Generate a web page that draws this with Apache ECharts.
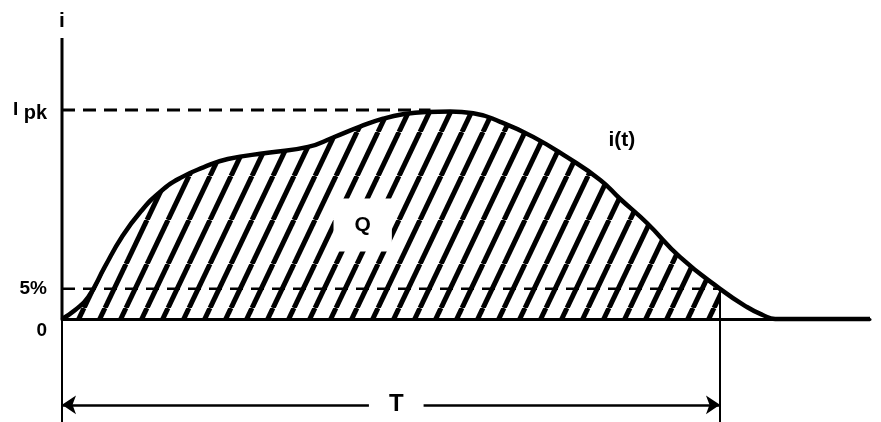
<!DOCTYPE html>
<html>
<head>
<meta charset="utf-8">
<script src="https://cdn.jsdelivr.net/npm/echarts@6/dist/echarts.min.js"></script>
<style>
html,body{margin:0;padding:0;background:#fff}
#main{width:881px;height:422px}
</style>
</head>
<body>
<div id="main"></div>
<script>
// i(t): t in % of T, i in % of Ipk
var tVals = [0, 2.0, 4.0, 6.5, 9.1, 12.0, 15.0, 18.0, 21.5, 25.2, 31.3, 37.4, 41.2, 45.3, 48.8, 52.0, 55.5, 59.0, 62.5, 66.6, 71.6, 76.7, 81.8, 84.8, 88.9, 93.9, 100, 104.1, 106.5, 108.4, 122.8];
var iVals = [0, 4.3, 10.5, 24.9, 39.2, 51.5, 61.0, 67.5, 72.5, 76.5, 79.5, 82.3, 86.8, 92.0, 95.8, 98.0, 99.0, 99.2, 98.4, 94.3, 87.1, 77.5, 66.5, 57.5, 45.9, 29.7, 14.4, 5.7, 1.9, 0, 0];

var tickValues = [0, 14.4, 100];
var tickLabels = ['0', '5%', 'I pk'];
var T = 100;        // end of T
var lvl5 = 14.4;    // 5% level as drawn
var peakEnd = 56;   // Ipk dashed line end
var qPos = [45.7, 45];
var itPos = [85.1, 85.6];
var dimLevel = -41.1;
var tPos = [50.8, dimLevel];
var yMin = -49.3, yMax = 134.4;

var curve = tVals.map(function (t, k) { return [t, iVals[k]]; });
var hatched = curve.filter(function (p) { return p[0] <= T; });

function hatch() {
    var c = document.createElement('canvas');
    c.width = 21; c.height = 44;
    var g = c.getContext('2d');
    g.strokeStyle = '#000';
    g.lineWidth = 5;
    [-21, 0, 21].forEach(function (o) {
        g.beginPath();
        g.moveTo(o, 44);
        g.lineTo(o + 21, 0);
        g.stroke();
    });
    return c;
}

var font = 'Liberation Sans, Arial, sans-serif';
var blk = '#000';

function seg(pts, w, dash) {
    return {
        type: 'line', data: pts, symbol: 'none', silent: true,
        lineStyle: { color: blk, width: w, type: dash ? [13, 8] : 'solid' }
    };
}

function tag(pos, text, size, box) {
    var lab = {
        show: true, position: 'inside', formatter: text,
        color: blk, fontSize: size, fontWeight: 'bold', fontFamily: font
    };
    if (box) { lab.backgroundColor = '#fff'; lab.padding = box; }
    return {
        type: 'scatter', data: [pos], symbolSize: 1, silent: true, z: 20,
        itemStyle: { color: '#fff', opacity: 1 }, label: lab
    };
}

var chart = echarts.init(document.getElementById('main'));
var option = {
    animation: false,
    backgroundColor: '#fff',
    grid: { left: 62, right: 11, top: 38, bottom: 0 },
    xAxis: {
        type: 'value', min: 0, max: 122.8,
        axisLine: { show: true, lineStyle: { color: blk, width: 3 } },
        axisTick: { show: false }, axisLabel: { show: false }, splitLine: { show: false }
    },
    yAxis: {
        type: 'value', min: yMin, max: yMax,
        name: 'i', nameLocation: 'end', nameGap: 6,
        nameTextStyle: { color: blk, fontSize: 21, fontWeight: 'bold', fontFamily: font },
        axisLine: { show: false }, axisTick: { show: false }, splitLine: { show: false },
        axisLabel: {
            customValues: tickValues,
            margin: 15,
            color: blk, fontSize: 19, fontWeight: 'bold', fontFamily: font,
            formatter: function (v) {
                var k = tickValues.indexOf(v);
                if (k < 0) return '';
                if (tickLabels[k] === 'I pk') return '{a|I} {b|pk}';
                if (tickLabels[k] === '0') return '{z|0}';
                return tickLabels[k];
            },
            rich: {
                a: { fontSize: 19, fontWeight: 'bold', fontFamily: font, color: blk },
                b: { fontSize: 20, fontWeight: 'bold', fontFamily: font, color: blk, padding: [8, 0, 0, 0] },
                z: { fontSize: 19, fontWeight: 'bold', fontFamily: font, color: blk, padding: [24, 0, 0, 0] }
            }
        }
    },
    series: [
        {
            type: 'line', data: hatched, smooth: 0.5, symbol: 'none', silent: true, z: 1,
            lineStyle: { width: 0 },
            areaStyle: { color: { image: hatch(), repeat: 'repeat' }, opacity: 1 }
        },
        Object.assign(seg(curve, 4.5), { smooth: 0.5 }),
        seg([[0, 100], [peakEnd, 100]], 3, true),
        seg([[0, lvl5], [T, lvl5]], 2.5, true),
        seg([[0, 0], [0, yMax]], 3),
        seg([[0, 0], [0, yMin]], 2),
        Object.assign(seg([[T, lvl5], [T, yMin]], 2), {
            markLine: {
                silent: true, symbol: ['arrow', 'arrow'], symbolSize: 14,
                lineStyle: { color: blk, width: 2.5, type: 'solid' },
                label: { show: false },
                data: [[{ coord: [0, dimLevel] }, { coord: [T, dimLevel] }]]
            }
        }),
        tag(qPos, 'Q', 21, [16, 21]),
        tag(itPos, 'i(t)', 21),
        tag(tPos, 'T', 24, [2, 20])
    ]
};
chart.setOption(option);
</script>
</body>
</html>
